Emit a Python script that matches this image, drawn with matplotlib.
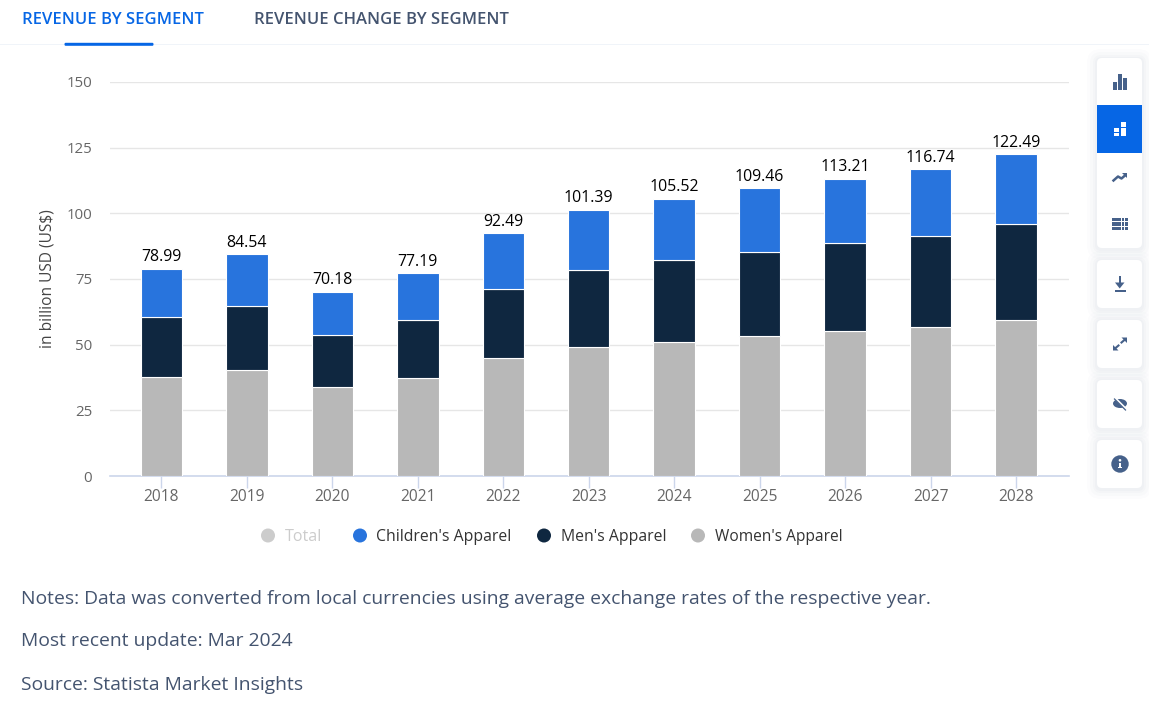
import numpy as np
import matplotlib
matplotlib.use("Agg")
import matplotlib.pyplot as plt
from matplotlib.patches import Rectangle, FancyBboxPatch, Polygon, Circle, Ellipse

plt.rcParams['font.family'] = ['Open Sans', 'DejaVu Sans']

# data
years = ['2018', '2019', '2020', '2021', '2022', '2023', '2024', '2025', '2026', '2027', '2028']
womens = [37.6, 40.2, 33.7, 37.2, 44.8, 49.0, 50.9, 53.2, 55.1, 56.6, 59.3]
mens = [22.8, 24.4, 19.9, 22.1, 26.5, 29.3, 31.3, 32.0, 33.5, 34.7, 36.8]
childrens = [18.59, 19.94, 16.58, 17.89, 21.19, 23.09, 23.32, 24.26, 24.61, 25.44, 26.39]
totals = [78.99, 84.54, 70.18, 77.19, 92.49, 101.39, 105.52, 109.46, 113.21, 116.74, 122.49]
y_ticks = [0, 25, 50, 75, 100, 125, 150]

W, H = 1149, 709
BLUE = '#2874dd'
NAVY = '#0f2740'
GREY = '#b8b8b8'
SLATE = '#44546f'
ICON = '#46618a'
ACTIVE = '#0666e5'

fig = plt.figure(figsize=(W / 100, H / 100), dpi=100, facecolor='white')

# chart area, pixel box x 110-1069, y 82-476
ax = fig.add_axes([110 / W, 1 - 476 / H, 959 / W, 394 / H])
x = np.arange(len(years))
bar_w = 0.485
womens = np.array(womens)
mens = np.array(mens)
childrens = np.array(childrens)
ax.bar(x, womens, bar_w, color=GREY, edgecolor='white', linewidth=0.8, zorder=3)
ax.bar(x, mens, bar_w, bottom=womens, color=NAVY, edgecolor='white', linewidth=0.8, zorder=3)
ax.bar(x, childrens, bar_w, bottom=womens + mens, color=BLUE, edgecolor='white', linewidth=0.8, zorder=3)

for xi, t in zip(x, totals):
    ax.text(xi, t + 1.3, f'{t:.2f}', ha='center', va='bottom', fontsize=11.4, fontweight='medium',
            color='black', zorder=4)

ax.set_xlim(-0.602, 10.62)
ax.set_ylim(0, 150)
ax.set_yticks(y_ticks)
ax.set_xticks(x)
ax.set_xticklabels(years)
ax.grid(axis='y', color='#e6e6e6', linewidth=1, zorder=0)
ax.tick_params(axis='y', length=0, pad=12.7, labelsize=10.8, labelcolor='#666666')
ax.tick_params(axis='x', length=8.5, width=1, color='#ccd6eb', pad=1, labelsize=11.2, labelcolor='#666666')
ax.set_axisbelow(True)
for s in ['top', 'right', 'left']:
    ax.spines[s].set_visible(False)
ax.spines['bottom'].set_color('#ccd6eb')
ax.spines['bottom'].set_linewidth(1.2)

# everything else sits in an overlay using pixel coordinates
ov = fig.add_axes([0, 0, 1, 1], facecolor='none')
ov.set_xlim(0, W)
ov.set_ylim(H, 0)
ov.axis('off')

ov.text(47.5, 279, 'in billion USD (US$)', rotation=90, ha='center', va='center', fontsize=11.2, color='#444444')

# tabs
ov.add_patch(Rectangle((0, 43.5), W, 1.2, color='#f0f4f9', lw=0))
ov.add_patch(FancyBboxPatch((64.5, 42.8), 89, 3, boxstyle='round,pad=0,rounding_size=1.2', color=ACTIVE, lw=0))
ov.text(22, 19.5, 'REVENUE BY SEGMENT', ha='left', va='center', fontsize=12, fontweight='semibold', color=ACTIVE)
ov.text(254, 19.5, 'REVENUE CHANGE BY SEGMENT', ha='left', va='center', fontsize=12, fontweight='semibold', color=SLATE)

# legend
leg_y = 535.5
legend_items = [(268, 285, 'Total', '#cccccc', '#cccccc', 11.6),
                (360, 376, "Children's Apparel", BLUE, '#333333', 11.3),
                (544, 561, "Men's Apparel", NAVY, '#333333', 11.3),
                (698, 715, "Women's Apparel", GREY, '#333333', 11.2)]
for cx, tx, name, col, tcol, fs in legend_items:
    ov.add_patch(Circle((cx, leg_y), 7, color=col, lw=0))
    ov.text(tx, leg_y + 1.5, name, ha='left', va='center', fontsize=fs, fontweight='medium', color=tcol)

# notes
ov.text(21, 599.5, 'Notes: Data was converted from local currencies using average exchange rates of the respective year.',
        ha='left', va='center', fontsize=13.9, color=SLATE)
ov.text(21, 641.5, 'Most recent update: Mar 2024', ha='left', va='center', fontsize=13.85, color=SLATE)
ov.text(21, 685, 'Source: Statista Market Insights', ha='left', va='center', fontsize=13.85, color=SLATE)


def card(y0, y1):
    # soft shadow then the white card
    for grow, a in [(10, 0.012), (7, 0.015), (4, 0.02), (2, 0.025)]:
        ov.add_patch(FancyBboxPatch((1097 - grow, y0 - grow + 1), 45 + 2 * grow, y1 - y0 + 2 * grow,
                                    boxstyle=f'round,pad=0,rounding_size={4 + grow}', color='#33507a', alpha=a, lw=0))
    ov.add_patch(FancyBboxPatch((1097, y0), 45, y1 - y0, boxstyle='round,pad=0,rounding_size=5',
                                color='white', lw=0))


def rect(x0, y0, x1, y1, col=ICON):
    ov.add_patch(Rectangle((x0, y0), x1 - x0, y1 - y0, color=col, lw=0))


card(58, 248)
card(260, 308)
card(320, 368)
card(380, 428)
card(440, 488)
rect(1097, 105, 1142, 153, ACTIVE)

# bar icon
rect(1113, 81.7, 1116.7, 89.7)
rect(1118, 74.3, 1122, 89.7)
rect(1123.3, 78.3, 1127, 89.7)
# stacked icon
rect(1113.7, 127.7, 1119, 131.7, 'white')
rect(1113.7, 132.7, 1119, 135.7, 'white')
rect(1121, 122.3, 1126.3, 127, 'white')
rect(1121, 128, 1126.3, 135.7, 'white')
# trend icon
ov.plot([1113.5, 1118, 1121.5, 1125], [180.5, 176.5, 178.5, 175.5], color=ICON, lw=1.8)
ov.add_patch(Polygon([[1122, 173], [1127, 173], [1127, 178]], color=ICON, lw=0))
# table icon
for rx0, rx1 in [(1112.3, 1120.5), (1121.5, 1124), (1125, 1127.7)]:
    for ry0, ry1 in [(217.7, 221), (222, 226), (227, 230.3)]:
        rect(rx0, ry0, rx1, ry1)
# download
rect(1118.5, 276, 1121, 284)
ov.add_patch(Polygon([[1115, 282.5], [1124.5, 282.5], [1119.7, 288.5]], color=ICON, lw=0))
rect(1115, 290, 1125.5, 291.8)
# expand, two arrows with a gap between them
ov.plot([1115, 1118.5], [348.5, 345.5], color=ICON, lw=1.5)
ov.plot([1121.5, 1125], [342.5, 339.5], color=ICON, lw=1.5)
ov.add_patch(Polygon([[1113, 350.5], [1113, 345], [1118.5, 350.5]], color=ICON, lw=0))
ov.add_patch(Polygon([[1127, 337.5], [1121.5, 337.5], [1127, 343]], color=ICON, lw=0))
# hide
ov.add_patch(Ellipse((1120, 403.5), 14, 9, color=ICON, lw=0))
ov.plot([1115, 1126], [398, 409], color='white', lw=1.6)
ov.plot([1114.5, 1125.5], [399, 410], color=ICON, lw=0.9)
# info
ov.add_patch(Circle((1120, 464), 8.7, color=ICON, lw=0))
rect(1119, 463, 1121.3, 468, 'white')
rect(1117.8, 467.2, 1122.4, 468.4, 'white')
ov.add_patch(Circle((1120, 460.3), 1.3, color='white', lw=0))

fig.savefig('out.png', dpi=100)
